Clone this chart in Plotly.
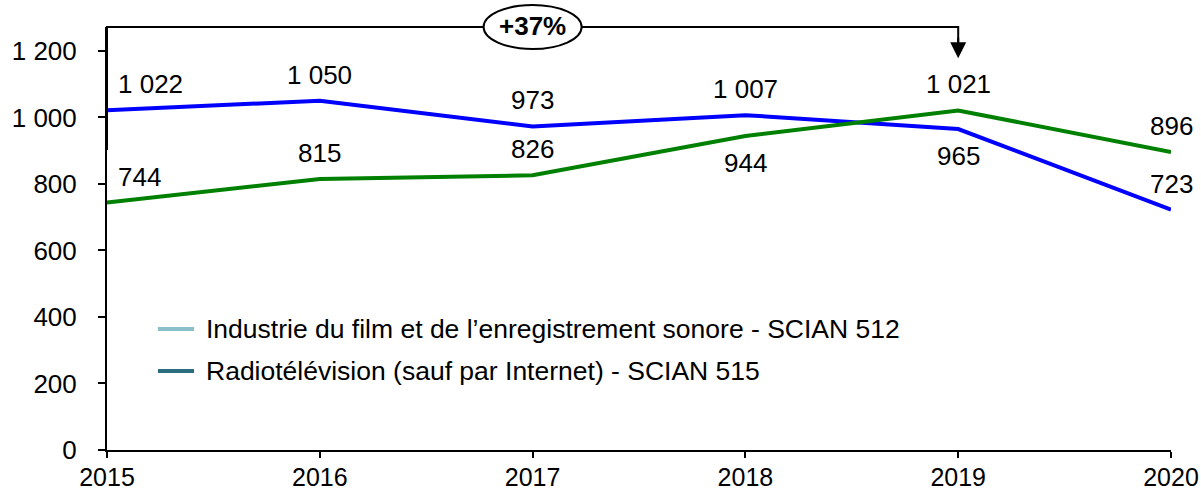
import plotly.graph_objects as go

# ---- data ----
years = [2015, 2016, 2017, 2018, 2019, 2020]
radio_tv = [1022, 1050, 973, 1007, 965, 723]        # blue line
film_son = [744, 815, 826, 944, 1021, 896]          # green line
y_tick_values = [0, 200, 400, 600, 800, 1000, 1200]
legend_names = [
    "Industrie du film et de l’enregistrement sonore - SCIAN 512",
    "Radiotélévision (sauf par Internet) - SCIAN 515",
]
# label placement per point (style)
radio_label_side = ["above", "above", "above", "above", "below", "above"]
film_label_side = ["above", "above", "above", "below", "above", "above"]

# ---- style ----
FONT = "Liberation Sans, Arial, sans-serif"
FS = 26
BLUE = "#0000FF"
GREEN = "#008000"
LEG_LIGHT = "#8BBFCA"
LEG_DARK = "#2C6E80"
Y_TOP = 1272
BRACKET_LOW = 902
ARROW_TIP = 1178


def fmt(v):
    return f"{v:,}".replace(",", " ")


def xp(year):
    return (year - years[0]) / (years[-1] - years[0])


def yp(val):
    return val / Y_TOP


fig = go.Figure()
fig.add_trace(go.Scatter(x=years, y=radio_tv, mode="lines",
                         line=dict(color=BLUE, width=4), showlegend=False,
                         cliponaxis=False))
fig.add_trace(go.Scatter(x=years, y=film_son, mode="lines",
                         line=dict(color=GREEN, width=4), showlegend=False,
                         cliponaxis=False))

annotations = []
for series, sides in ((radio_tv, radio_label_side), (film_son, film_label_side)):
    for i, (x, v) in enumerate(zip(years, series)):
        first = i == 0
        annotations.append(dict(
            x=x, y=v, xref="x", yref="y", text=fmt(v), showarrow=False,
            xanchor="left" if first else "center", yanchor="middle",
            xshift=9 if first else 0,
            yshift=26 if sides[i] == "above" else -27,
            font=dict(family=FONT, size=FS, color="black"),
        ))

# percentage change (2015 -> 2019, green series)
pct = round((film_son[4] / film_son[0] - 1) * 100)
annotations.append(dict(
    x=0.4, y=yp(Y_TOP), xref="paper", yref="paper", text=f"<b>+{pct}%</b>",
    showarrow=False, xanchor="center", yanchor="middle", yshift=1,
    font=dict(family=FONT, size=FS, color="black"),
))
# arrow head at 2019
annotations.append(dict(
    x=years[4], y=yp(ARROW_TIP), xref="x", yref="paper", text="",
    showarrow=True, ax=0, ay=-22, arrowhead=2, arrowsize=1.6, arrowwidth=2,
    arrowcolor="black",
))

# manual legend
leg_y_px = [329, 371]
leg_colors = [LEG_LIGHT, LEG_DARK]
shapes = []
for name, col, ypx in zip(legend_names, leg_colors, leg_y_px):
    yy = (450 - ypx) / 423
    shapes.append(dict(type="line", xref="paper", yref="paper",
                       x0=(158 - 107) / 1064, x1=(194 - 107) / 1064,
                       y0=yy, y1=yy, line=dict(color=col, width=4)))
    annotations.append(dict(
        x=(204 - 107) / 1064, y=yy, xref="paper", yref="paper", text=name,
        showarrow=False, xanchor="left", yanchor="middle",
        font=dict(family=FONT, size=26.5, color="black"),
    ))

# bracket
shapes.append(dict(
    type="path", xref="paper", yref="paper",
    path=(f"M {xp(2015)},{yp(BRACKET_LOW)} L {xp(2015)},{yp(Y_TOP)} "
          f"L {xp(2019)},{yp(Y_TOP)} L {xp(2019)},{yp(ARROW_TIP + 40)}"),
    line=dict(color="black", width=2),
))
# ellipse
shapes.append(dict(
    type="circle", xref="paper", yref="paper",
    x0=0.4 - 49 / 1064, x1=0.4 + 49 / 1064,
    y0=yp(Y_TOP) - 22 / 423, y1=yp(Y_TOP) + 22 / 423,
    line=dict(color="black", width=2), fillcolor="white",
))

fig.update_layout(
    width=1201, height=491,
    margin=dict(l=107, r=30, t=27, b=41, autoexpand=False),
    paper_bgcolor="white", plot_bgcolor="white",
    font=dict(family=FONT, size=FS, color="black"),
    showlegend=False,
    annotations=annotations,
    shapes=shapes,
    xaxis=dict(range=[years[0], years[-1]], tickvals=years,
               ticktext=[str(y) for y in years], automargin=False,
               showgrid=False, zeroline=False, showline=True,
               linecolor="black", linewidth=2, ticks="outside",
               ticklen=6, tickwidth=2, tickcolor="black",
               ticklabelstandoff=-2,
               tickfont=dict(family=FONT, size=25, color="black")),
    yaxis=dict(range=[0, Y_TOP], tickvals=y_tick_values,
               ticktext=[fmt(v) for v in y_tick_values], automargin=False,
               showgrid=False, zeroline=False, showline=True,
               linecolor="black", linewidth=2, ticks="outside",
               ticklen=7, tickwidth=2, tickcolor="black",
               ticklabelstandoff=16,
               tickfont=dict(family=FONT, size=FS, color="black")),
)

fig.write_html("out.html",
               config={"displayModeBar": False},
               post_script="document.body.style.margin='0px';"
                           "document.body.style.overflow='hidden';")
